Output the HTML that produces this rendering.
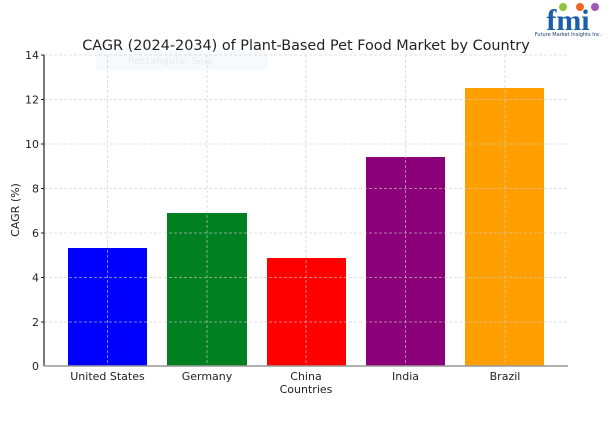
<!DOCTYPE html>
<html><head><meta charset="utf-8"><style>
body{margin:0;background:#fff;width:612px;height:417px;overflow:hidden}
text{font-family:"DejaVu Sans","Liberation Sans",sans-serif;fill:#222}
</style></head><body>
<svg width="612" height="417" viewBox="0 0 612 417" xmlns="http://www.w3.org/2000/svg">
<rect x="96" y="50" width="172" height="20" fill="#f7fafd"/>
<text x="128" y="64" font-size="10" style="fill:#e6ebf2">Rectangular Snip</text>
<rect x="68" y="248" width="79" height="118" fill="#0000ff"/>
<rect x="167" y="213" width="80" height="153" fill="#008020"/>
<rect x="267" y="258" width="79" height="108" fill="#ff0000"/>
<rect x="366" y="157" width="79" height="209" fill="#8b0079"/>
<rect x="465" y="88" width="79" height="278" fill="#ffa000"/>
<g stroke="#ccc" stroke-width="0.8" stroke-dasharray="3,2" opacity="0.8">
<line x1="44" x2="568" y1="55" y2="55"/>
<line x1="44" x2="568" y1="99.5" y2="99.5"/>
<line x1="44" x2="568" y1="144" y2="144"/>
<line x1="44" x2="568" y1="188.5" y2="188.5"/>
<line x1="44" x2="568" y1="233" y2="233"/>
<line x1="44" x2="568" y1="277.5" y2="277.5"/>
<line x1="44" x2="568" y1="322" y2="322"/>
<line x1="107.5" x2="107.5" y1="55" y2="366"/>
<line x1="207" x2="207" y1="55" y2="366"/>
<line x1="306" x2="306" y1="55" y2="366"/>
<line x1="405.5" x2="405.5" y1="55" y2="366"/>
<line x1="505" x2="505" y1="55" y2="366"/>
</g>
<line x1="44" x2="44" y1="55" y2="366" stroke="#222" stroke-width="1.2"/>
<line x1="44" x2="568" y1="366" y2="366" stroke="#999" stroke-width="1.5"/>
<g stroke="#222"><line x1="41" x2="44" y1="55" y2="55"/><line x1="41" x2="44" y1="99.5" y2="99.5"/><line x1="41" x2="44" y1="144" y2="144"/><line x1="41" x2="44" y1="188.5" y2="188.5"/><line x1="41" x2="44" y1="233" y2="233"/><line x1="41" x2="44" y1="277.5" y2="277.5"/><line x1="41" x2="44" y1="322" y2="322"/></g>
<g font-size="11" text-anchor="end">
<text x="39" y="59">14</text><text x="39" y="103.5">12</text><text x="39" y="148">10</text><text x="39" y="192.5">8</text><text x="39" y="237">6</text><text x="39" y="281.5">4</text><text x="39" y="326">2</text><text x="39" y="370">0</text>
</g>
<g font-size="11" text-anchor="middle">
<text x="107.5" y="380">United States</text><text x="207" y="380">Germany</text><text x="306" y="380">China</text><text x="405.5" y="380">India</text><text x="505" y="380">Brazil</text>
<text x="306" y="393">Countries</text>
<text transform="translate(19,210) rotate(-90)">CAGR (%)</text>
</g>
<text x="306" y="50" font-size="14.4" text-anchor="middle">CAGR (2024-2034) of Plant-Based Pet Food Market by Country</text>
<g>
<text x="568" y="30" font-size="30" font-weight="bold" text-anchor="middle" style="fill:#1a5fa8;font-family:'Liberation Serif',serif">fmi</text>
<circle cx="563" cy="7" r="4" fill="#8cc63f"/><circle cx="580" cy="7" r="4" fill="#f26522"/><circle cx="595" cy="7" r="4" fill="#9b59b6"/>
<text x="568" y="36" font-size="5" text-anchor="middle" style="fill:#1a3a6b">Future Market Insights Inc.</text>
</g>
</svg>
</body></html>
